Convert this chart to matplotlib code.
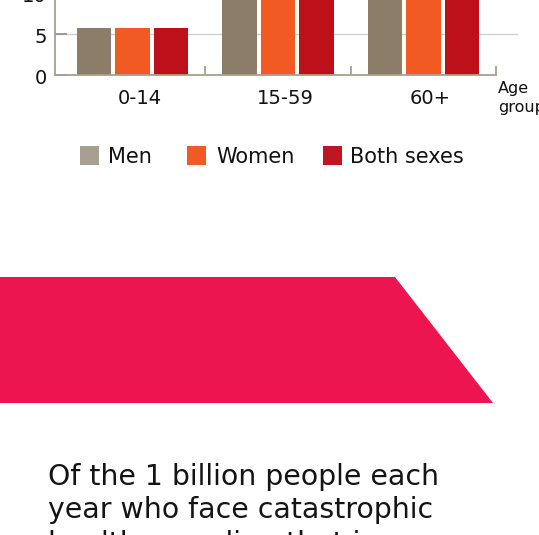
import matplotlib
matplotlib.use("Agg")
import matplotlib.pyplot as plt
import numpy as np
from matplotlib.patches import Rectangle, Polygon
from matplotlib.transforms import ScaledTranslation

# ---- data ----
categories = ["0-14", "15-59", "60+"]
series_names = ["Men", "Women", "Both sexes"]
men = [5.8, 12.6, 13.4]
women = [5.8, 12.9, 14.1]
both = [5.8, 12.7, 13.8]
y_ticks = [0, 5, 10]
y_max = 11
text_lines = ["Of the 1 billion people each",
              "year who face catastrophic",
              "health spending that is"]

bar_colors = ["#8B7D67", "#F15A22", "#BE101A"]
legend_colors = ["#A79F8F", "#F15A24", "#BE1622"]
spine_color = "#A8A090"
W, H = 539, 535

fig = plt.figure(figsize=(W / 100, H / 100), dpi=100)


def fx(x):
    return x / W


def fy(y):
    return 1 - y / H


# ---- axes ----
px_per_unit = 8.2
ax_h = y_max * px_per_unit
ax = fig.add_axes([fx(55), fy(75.3), 441 / W, ax_h / H])
ax.set_ylim(0, y_max)
ax.set_xlim(-0.533, 2.5)

x = np.arange(len(categories))
bw = 0.237
step = 0.265
for i, (vals, c) in enumerate(zip([men, women, both], bar_colors)):
    ax.bar(x + (i - 1) * step, vals, width=bw, color=c, zorder=2)

# gridlines (extend slightly past the right end of the axis)
for yv in y_ticks[1:]:
    ax.plot([0, (517 - 55) / 441], [yv, yv], transform=ax.get_yaxis_transform(),
            color="#CFCFCF", lw=1.0, zorder=0, clip_on=False)

for s in ["top", "right"]:
    ax.spines[s].set_visible(False)
for s in ["left", "bottom"]:
    ax.spines[s].set_color(spine_color)
    ax.spines[s].set_linewidth(1.3)

ax.set_yticks(y_ticks)
ax.set_yticklabels([str(v) for v in y_ticks])
ax.tick_params(axis="y", direction="in", length=8.4, width=1.3, color="#9E9380",
               labelsize=14, pad=6, labelcolor="#111111")
for lab in ax.get_yticklabels():
    lab.set_transform(lab.get_transform() + ScaledTranslation(0, -1 / 72, fig.dpi_scale_trans))

ax.set_xticks(x)
ax.set_xticklabels(categories)
ax.tick_params(axis="x", which="major", length=0, labelsize=14, pad=10, labelcolor="#111111")
for lab in ax.get_xticklabels():
    lab.set_transform(lab.get_transform() + ScaledTranslation(5 / 72, 0, fig.dpi_scale_trans))
ax.set_xticks(x + 0.5, minor=True)
ax.tick_params(axis="x", which="minor", direction="in", length=6.5, width=1.3, color=spine_color)

fig.text(fx(498), fy(93.4), "Age", fontsize=11.5, ha="left", va="baseline", color="#111111")
fig.text(fx(498), fy(111.5), "group", fontsize=11.5, ha="left", va="baseline", color="#111111")

# ---- legend (manual) ----
leg_boxes = [80, 187.3, 323.3]
leg_text_x = [107.7, 216.7, 350]
for bx, tx, name, c in zip(leg_boxes, leg_text_x, series_names, legend_colors):
    fig.add_artist(Rectangle((fx(bx), fy(164.5)), 19 / W, 19 / H, transform=fig.transFigure,
                             facecolor=c, edgecolor="none"))
    fig.text(fx(tx), fy(155), name, fontsize=15, ha="left", va="center_baseline", color="#111111")

# ---- banner ----
fig.add_artist(Polygon([(fx(0), fy(277)), (fx(395), fy(277)), (fx(493), fy(403)), (fx(0), fy(403))],
                       closed=True, transform=fig.transFigure, facecolor="#EC1550", edgecolor="none"))

# ---- body text ----
for i, line in enumerate(text_lines):
    fig.text(fx(48), fy(485 + i * 33.5), line, fontsize=20.4, ha="left", va="baseline",
             color="#141414")

fig.savefig("out.png", dpi=100)
